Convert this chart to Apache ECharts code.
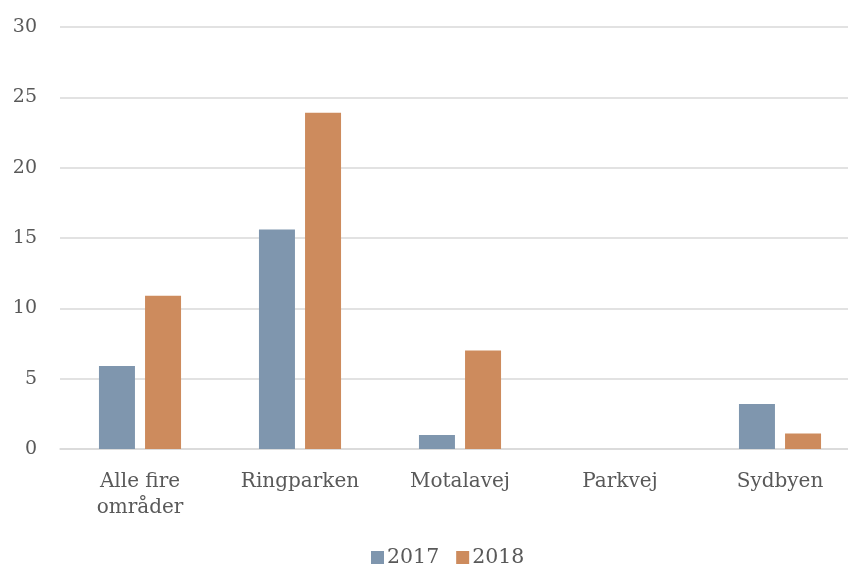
<!DOCTYPE html>
<html>
<head>
<meta charset="utf-8">
<script src="https://cdn.jsdelivr.net/npm/echarts@6/dist/echarts.min.js"></script>
<style>
  html, body { margin: 0; padding: 0; background: #fff; }
  #chart { width: 848px; height: 569px; }
</style>
</head>
<body>
<div id="chart"></div>
<script>
const categories = ['Alle fire\nområder', 'Ringparken', 'Motalavej', 'Parkvej', 'Sydbyen'];
const values2017 = [5.9, 15.6, 1.0, 0, 3.2];
const values2018 = [10.9, 23.9, 7.0, 0, 1.1];
const seriesNames = ['2017', '2018'];

const chart = echarts.init(document.getElementById('chart'));
const font = 'DejaVu Serif';
const textColor = '#595959';

chart.setOption({
  animation: false,
  textStyle: { fontFamily: font },
  grid: { left: 60, width: 800, top: 27, bottom: 120, outerBoundsMode: 'none' },
  legend: {
    bottom: -4,
    left: 366,
    itemWidth: 13,
    itemHeight: 13,
    itemGap: 17,
    icon: 'rect',
    textStyle: { fontFamily: font, fontSize: 20.5, color: textColor, padding: [0, 0, 0, -2] },
    data: seriesNames
  },
  xAxis: {
    type: 'category',
    data: categories,
    axisLine: { lineStyle: { color: '#d9d9d9', width: 1.5 } },
    axisTick: { show: false },
    axisLabel: { fontFamily: font, fontSize: 20, color: textColor, margin: 20, lineHeight: 26 }
  },
  yAxis: {
    type: 'value',
    min: 0,
    max: 30,
    interval: 5,
    axisLine: { show: false },
    axisTick: { show: false },
    splitLine: { lineStyle: { color: '#d9d9d9', width: 1.5 } },
    axisLabel: { fontFamily: font, fontSize: 19, color: textColor, margin: 23 }
  },
  series: [
    {
      name: seriesNames[0],
      type: 'bar',
      data: values2017,
      barWidth: '22.5%',
      barGap: '28%',
      itemStyle: { color: '#7f96ae' }
    },
    {
      name: seriesNames[1],
      type: 'bar',
      data: values2018,
      barWidth: '22.5%',
      itemStyle: { color: '#cd8b5d' }
    }
  ]
});
</script>
</body>
</html>
